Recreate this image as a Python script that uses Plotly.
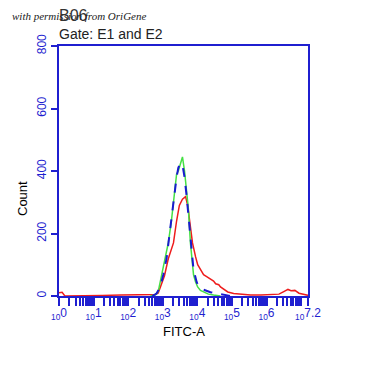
import numpy as np
import plotly.graph_objects as go

# log10(FITC-A) positions and counts
green_log = [2.64, 2.79, 2.87, 2.96, 3.05, 3.16, 3.25, 3.34, 3.40, 3.45, 3.51, 3.57, 3.63, 3.69, 3.74,
             3.80, 3.86, 3.89, 3.95, 4.01, 4.09, 4.18, 4.32, 4.47, 4.67]
green_cnt = [0, 4, 15, 65, 110, 170, 240, 320, 390, 400, 420, 445, 400, 340, 280,
             170, 110, 68, 45, 29, 18, 13, 6, 3, 0]

blue_log = [2.70, 2.82, 2.93, 3.02, 3.11, 3.19, 3.28, 3.34, 3.40, 3.45, 3.51, 3.57, 3.63, 3.69, 3.74,
            3.80, 3.83, 3.86, 3.89, 3.98, 4.04, 4.18, 4.38, 4.59, 4.76, 4.96]
blue_cnt = [0, 8, 30, 70, 120, 190, 280, 340, 380, 410, 425, 420, 380, 320, 260,
            180, 131, 100, 84, 45, 29, 20, 12, 8, 4, 0]

red_log = [0.00, 0.09, 0.17, 1.19, 1.25, 1.80, 2.30, 2.64, 2.79, 2.87, 2.96, 3.05, 3.16, 3.31, 3.40,
           3.48, 3.57, 3.66, 3.72, 3.77, 3.80, 3.86, 3.95, 4.01, 4.09, 4.18, 4.27, 4.38, 4.47, 4.53,
           4.62, 4.67, 4.76, 4.88, 5.05, 5.25, 5.54, 5.84, 6.13, 6.36, 6.50, 6.62, 6.71, 6.82, 6.94,
           7.08, 7.20]
red_cnt = [10, 12, 0, 0, 2, 3, 3, 3, 5, 10, 35, 65, 119, 170, 240,
           290, 310, 318, 290, 250, 212, 170, 125, 100, 85, 68, 62, 55, 48, 39,
           36, 29, 22, 13, 8, 5, 3, 3, 4, 6, 14, 21, 17, 18, 9,
           5, 2]

x_tick_exps = [0, 1, 2, 3, 4, 5, 6, 7.2]
x_tick_text = ["<sub>10</sub>0", "<sub>10</sub>1", "<sub>10</sub>2", "<sub>10</sub>3", "<sub>10</sub>4",
               "<sub>10</sub>5", "<sub>10</sub>6", "<sub>10</sub>7.2"]
y_ticks = [0, 200, 400, 600, 800]

AX = "#1f1fd0"

fig = go.Figure()
fig.add_trace(go.Scatter(x=np.power(10.0, red_log), y=red_cnt, mode="lines",
                         line=dict(color="#ee1c1c", width=1.5), showlegend=False))
fig.add_trace(go.Scatter(x=np.power(10.0, green_log), y=green_cnt, mode="lines",
                         line=dict(color="#44e044", width=1.5), showlegend=False))
fig.add_trace(go.Scatter(x=np.power(10.0, blue_log), y=blue_cnt, mode="lines",
                         line=dict(color="#1a1ad0", width=2, dash="dash"), showlegend=False))

OFF = 8  # page body margin
W, H = 361, 376
L, T = 51, 38
pw, ph = 249, 250
R = W - L - pw
B = H - T - ph

def px(x):
    return (x - OFF - L) / pw

def py(y):
    return (T + ph - (y - OFF)) / ph

fig.update_layout(
    width=W, height=H,
    margin=dict(l=L, r=R, t=T, b=B),
    paper_bgcolor="white", plot_bgcolor="white",
    font=dict(family="Liberation Sans, Arial", color="black"),
    xaxis=dict(type="log", range=[0, 7.2], tickvals=[10 ** e for e in x_tick_exps], ticktext=x_tick_text,
               automargin=False, tickangle=0, ticklabelstandoff=-3,
               showline=True, linecolor=AX, linewidth=2, mirror=True, showgrid=False, zeroline=False,
               ticks="outside", ticklen=8, tickwidth=2, tickcolor=AX,
               tickfont=dict(color=AX, size=12, family="Liberation Sans, Arial"),
               minor=dict(ticks="outside", ticklen=8, tickwidth=2, tickcolor=AX, dtick="D1", showgrid=False)),
    yaxis=dict(range=[0, 800], tickvals=y_ticks, ticktext=[str(v) for v in y_ticks], tickangle=-90,
               automargin=False,
               showline=True, linecolor=AX, linewidth=2, mirror=True, showgrid=False, zeroline=False,
               ticks="outside", ticklen=6, tickwidth=2, tickcolor=AX,
               tickfont=dict(color=AX, size=12, family="Liberation Sans, Arial")),
    annotations=[
        dict(text="B06", x=px(57), y=py(16), xref="paper", yref="paper", xanchor="left", yanchor="middle",
             showarrow=False, font=dict(size=16, color="#333333")),
        dict(text="<i>with permission from OriGene</i>", x=px(10), y=py(16), xref="paper", yref="paper",
             xanchor="left", yanchor="middle", showarrow=False,
             font=dict(size=11, color="#222222", family="Liberation Serif, DejaVu Serif")),
        dict(text="Gate: E1 and E2", x=px(57), y=py(34), xref="paper", yref="paper", xanchor="left",
             yanchor="middle", showarrow=False, font=dict(size=14, color="#222222")),
        dict(text="FITC-A", x=px(184), y=py(331), xref="paper", yref="paper", xanchor="center",
             yanchor="middle", showarrow=False, font=dict(size=13, color="black")),
        dict(text="Count", x=px(22), y=py(199), xref="paper", yref="paper", xanchor="center",
             yanchor="middle", showarrow=False, textangle=-90, font=dict(size=13, color="black")),
    ],
)

fig.write_html("out.html")
